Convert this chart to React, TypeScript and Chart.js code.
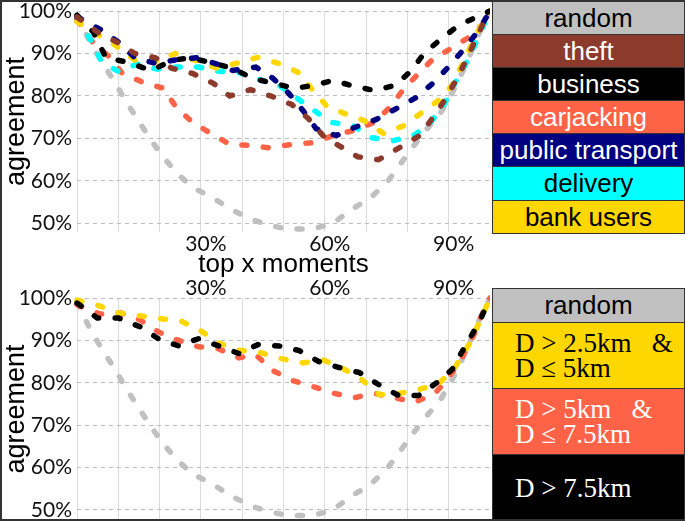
import React, { useEffect, useRef } from "react";
import { Chart, registerables } from "chart.js";

Chart.register(...registerables);

// ---------- data ----------
const xRandom = [0, 3, 6, 9, 12, 15, 18, 21, 24, 28, 33, 37, 42, 47, 51, 57, 62, 66, 71, 75, 78, 81, 84, 88, 91, 94, 97, 100];
const yRandom = [99, 93, 88, 83.5, 78.5, 74, 69.5, 65.5, 62, 58.5, 56, 53.5, 51, 49.5, 48.7, 48.7, 50, 53, 56, 59.6, 63.6, 67.6, 71.4, 76, 81, 87, 94, 100];

const xTheft = [0, 5, 10, 14, 19, 23, 28, 33, 37, 42, 47, 52, 56, 60, 64, 68, 73, 78, 83, 86, 89, 92.5, 95.6, 98.8, 100];
const yTheft = [98.6, 95, 92.5, 90, 89, 86.5, 85.3, 83, 80, 81.5, 80, 78, 74.7, 70.2, 68, 65.7, 65, 67.8, 70.7, 74.7, 79, 85, 91.3, 98, 100];

const xBusiness = [0, 4, 7, 12, 18, 23, 27.5, 33, 37.7, 42.6, 47.7, 52.6, 57.4, 62, 67, 72, 77, 81, 84, 88, 92.5, 100];
const yBusiness = [99, 95, 89, 88, 86, 88.4, 89, 87.7, 86.5, 84.1, 83, 81.8, 82.5, 83.7, 82.3, 81.3, 82.5, 86, 90, 93.3, 96.7, 100];

const xCarjacking = [0, 4, 8, 11, 16, 21, 24, 28, 32.4, 37, 41.6, 46.5, 51.8, 57, 62, 67, 72, 75.7, 79, 82.7, 86.4, 90.8, 95, 98.8, 100];
const yCarjacking = [97.9, 92.4, 89.1, 85.3, 83.2, 81.8, 77.3, 73.8, 71.2, 68.6, 68.4, 67.8, 68.6, 69, 70.7, 71.9, 73.8, 77.3, 81.5, 85.3, 88.9, 91.3, 93.9, 97.4, 100];

const xPublic = [0, 5.6, 10, 14, 19, 24, 29, 34, 37.7, 43.3, 47.4, 51.3, 54.7, 57.9, 62.8, 67.2, 72.5, 77.4, 82.2, 86.4, 90.3, 93.9, 97.3, 100];
const yPublic = [98.6, 95.7, 92.7, 89, 87.7, 88.5, 89, 87.5, 86, 86.8, 84.2, 80.6, 76.6, 72.3, 70.7, 72.6, 74.5, 77.1, 79.7, 83.2, 87.2, 91.3, 95.5, 100];

const xDelivery = [0, 3.6, 6, 10, 14.6, 19.5, 24.3, 29.4, 34.3, 39.2, 44, 48.9, 53, 57.4, 61.6, 66.9, 71.3, 76.6, 81.5, 85.4, 88.8, 91.5, 94.9, 97.6, 100];
const yDelivery = [98.5, 92.7, 88, 85.8, 87.5, 86.3, 86.8, 86.8, 85.8, 85.5, 83.9, 82.5, 79.7, 76.6, 73.8, 73, 70.2, 69.5, 70.7, 73.5, 77.8, 83, 88.9, 94.8, 100];

const xBank = [0, 5.6, 9.2, 14.1, 19, 23.8, 29.2, 34, 38.6, 43.8, 48.7, 53.5, 56.7, 60.3, 64.7, 69.6, 74.2, 79.1, 83.5, 87.6, 90.8, 94, 97.6, 100];
const yBank = [97.5, 94.1, 92, 88.4, 88, 90, 88.2, 86.5, 87.7, 89.1, 87.7, 85.6, 81.8, 77.8, 75.9, 74.2, 71.2, 73, 76.1, 79, 82.5, 89, 96.2, 100];

const xD1 = [0, 5.6, 10, 15.3, 20.2, 25.1, 29.9, 34.3, 39, 44.5, 49.4, 54.7, 59.6, 64.5, 68.9, 73.2, 78.1, 82.7, 87.6, 91.5, 94.9, 98, 100];
const yD1 = [99.5, 98.1, 96.5, 95.8, 95.1, 94.6, 92.3, 89.4, 87.7, 87.1, 85.7, 84.7, 85.4, 83.3, 80.8, 77.2, 77.5, 78.4, 79.8, 83.6, 89, 95.5, 100];

const xD2 = [0, 5.6, 10.5, 15.3, 19.7, 24.3, 29.4, 34.3, 39.2, 43.3, 47.4, 52.3, 57.2, 62.3, 67.2, 72, 76.9, 81.5, 86.4, 90, 93.2, 96.1, 98.8, 100];
const yD2 = [98.4, 96.2, 96.5, 94.8, 92, 90.1, 88.5, 88, 85.9, 86.6, 82.9, 80.5, 79.1, 77.5, 76.5, 77.5, 76.5, 75.4, 77.2, 81.2, 85.9, 91.3, 97.9, 100];

const xD3 = [0, 4.9, 10, 15.3, 19.7, 24.6, 29.4, 34.3, 39.2, 43.8, 48.9, 53.8, 58.6, 63.5, 68.4, 73, 77.9, 82.7, 87.1, 90.8, 93.9, 97.3, 100];
const yD3 = [98.8, 95.3, 95.3, 93.2, 90.4, 88.7, 90.4, 88.7, 86.9, 89, 88.7, 87.6, 85, 83.6, 82.4, 79.6, 77, 77, 80, 83.1, 88.5, 94.1, 100];

const xTicks = [0, 10, 20, 30, 40, 50, 60, 70, 80, 90, 100];
const xLabelled = [30, 60, 90];
const yTicks = [50, 60, 70, 80, 90, 100];

const topLegend = ["random", "theft", "business", "carjacking", "public transport", "delivery", "bank users"];
const bottomLegend = ["random", "D > 2.5km   &\nD ≤ 5km", "D > 5km   &\nD ≤ 7.5km", "D > 7.5km"];

// ---------- styles ----------
const C_RANDOM = "#c0c0c0";
const C_THEFT = "#8b3a2b";
const C_BLACK = "#000000";
const C_TOMATO = "#ff6347";
const C_NAVY = "#000080";
const C_CYAN = "#00ffff";
const C_GOLD = "#ffd700";

const pts = (xs: number[], ys: number[]) => xs.map((x, i) => ({ x, y: ys[i] }));

const ds = (label: string, xs: number[], ys: number[], color: string) => ({
  label,
  data: pts(xs, ys),
  borderColor: color,
  backgroundColor: color,
  borderWidth: 5.5,
  borderDash: [5, 16.5],
  borderCapStyle: "round",
  pointRadius: 0,
  tension: 0,
  fill: false,
  clip: false,
});

const xTickFont = { family: "Lato", size: 21 };
const yTickFont = { family: "Lato", size: 21, lineHeight: 0.1 };

function makeOptions(min: number, max: number, xPos: "top" | "bottom", xHeight: number, withTitle: boolean, padTop: number) {
  return {
    responsive: false,
    animation: false,
    devicePixelRatio: 1,
    layout: { padding: { top: padTop, right: 0, bottom: 0, left: 0 } },
    plugins: { legend: { display: false }, tooltip: { enabled: false } },
    scales: {
      x: {
        type: "linear",
        position: xPos,
        min: 0,
        max: 100,
        afterBuildTicks: (s: any) => {
          s.ticks = xTicks.map((v) => ({ value: v }));
        },
        afterFit: (s: any) => {
          s.height = xHeight;
        },
        ticks: {
          autoSkip: false,
          maxRotation: 0,
          padding: xPos === "top" ? -3 : 0,
          labelOffset: 5,
          font: xTickFont,
          color: "#111",
          callback: (v: any) => (xLabelled.includes(v) ? v + "%" : ""),
        },
        grid: { color: "#dcdcdc", drawTicks: false, lineWidth: 1 },
        border: { display: false },
        title: withTitle
          ? { display: true, text: "top x moments", font: { family: "Liberation Sans", size: 26 }, color: "#000", padding: 0 }
          : { display: false },
      },
      y: {
        type: "linear",
        min,
        max,
        afterBuildTicks: (s: any) => {
          s.ticks = yTicks.map((v) => ({ value: v }));
        },
        afterFit: (s: any) => {
          s.width = 77;
        },
        ticks: {
          padding: 0,
          font: yTickFont,
          color: "#111",
          callback: (v: any) => v + "%",
        },
        grid: { color: "#bdbdbd", drawTicks: true, tickLength: 5, tickColor: "rgba(0,0,0,0)", lineWidth: 1 },
        border: { display: false, dash: [4, 4] },
        title: { display: true, text: "agreement", font: { family: "Liberation Sans", size: 27 }, color: "#000", padding: 0 },
      },
    },
  } as any;
}

function Panel(props: { top: number; height: number; datasets: any[]; min: number; max: number; xPos: "top" | "bottom"; xHeight: number; withTitle: boolean; padTop: number }) {
  const ref = useRef<HTMLCanvasElement | null>(null);
  useEffect(() => {
    if (!ref.current) return;
    const chart = new Chart(ref.current, {
      type: "line",
      data: { datasets: props.datasets },
      options: makeOptions(props.min, props.max, props.xPos, props.xHeight, props.withTitle, props.padTop),
    } as any);
    return () => chart.destroy();
  }, []);
  return (
    <canvas
      ref={ref}
      width={490}
      height={props.height}
      style={{ position: "absolute", left: 0, top: props.top, width: 490, height: props.height }}
    />
  );
}

const topColors = [C_RANDOM, C_THEFT, C_BLACK, C_TOMATO, C_NAVY, C_CYAN, C_GOLD];
const topText = ["#000", "#fff", "#fff", "#fff", "#fff", "#000", "#000"];
const botColors = [C_RANDOM, C_GOLD, C_TOMATO, C_BLACK];
const botText = ["#000", "#000", "#fff", "#fff"];

export default function App() {
  // first dataset is drawn on top
  const topDatasets = [
    ds("theft", xTheft, yTheft, C_THEFT),
    ds("public transport", xPublic, yPublic, C_NAVY),
    ds("business", xBusiness, yBusiness, C_BLACK),
    ds("bank users", xBank, yBank, C_GOLD),
    ds("delivery", xDelivery, yDelivery, C_CYAN),
    ds("carjacking", xCarjacking, yCarjacking, C_TOMATO),
    ds("random", xRandom, yRandom, C_RANDOM),
  ];
  const bottomDatasets = [
    ds("D > 7.5km", xD3, yD3, C_BLACK),
    ds("D > 2.5km & D ≤ 5km", xD1, yD1, C_GOLD),
    ds("D > 5km & D ≤ 7.5km", xD2, yD2, C_TOMATO),
    ds("random", xRandom, yRandom, C_RANDOM),
  ];

  const topRows = [1, 34, 67, 100, 133, 166, 200, 233];
  const botRows = [288, 322, 388, 454, 521];

  return (
    <div style={{ position: "absolute", left: 0, top: 0, width: 685, height: 521, background: "#fff", overflow: "hidden" }}>
      <Panel top={0} height={280} datasets={topDatasets} min={48} max={100} xPos="bottom" xHeight={48} withTitle={true} padTop={11} />
      <Panel top={268} height={253} datasets={bottomDatasets} min={47.65} max={100} xPos="top" xHeight={30} withTitle={false} padTop={0} />
      {topLegend.map((t, i) => (
        <div
          key={"t" + i}
          style={{
            position: "absolute",
            left: 492,
            top: topRows[i],
            width: 193,
            height: topRows[i + 1] - topRows[i] + 1,
            background: topColors[i],
            color: topText[i],
            border: "1px solid #333",
            boxSizing: "border-box",
            display: "flex",
            alignItems: "center",
            justifyContent: "center",
            fontFamily: "Liberation Sans",
            fontSize: 26,
            whiteSpace: "nowrap",
          }}
        >
          {t}
        </div>
      ))}
      {bottomLegend.map((t, i) => (
        <div
          key={"b" + i}
          style={{
            position: "absolute",
            left: 492,
            top: botRows[i],
            width: 193,
            height: botRows[i + 1] - botRows[i] + 1,
            background: botColors[i],
            color: botText[i],
            border: "1px solid #333",
            boxSizing: "border-box",
            display: "flex",
            alignItems: "center",
            justifyContent: i === 0 ? "center" : "flex-start",
            paddingLeft: i === 0 ? 0 : 22,
            fontFamily: i === 0 ? "Liberation Sans" : "Liberation Serif",
            fontSize: i === 0 ? 26 : 27,
            lineHeight: i === 0 ? "normal" : "25px",
            whiteSpace: "pre",
          }}
        >
          {t}
        </div>
      ))}
      <div style={{ position: "absolute", left: 0, top: 0, width: 685, height: 2, background: "#333" }} />
      <div style={{ position: "absolute", left: 0, top: 0, width: 2, height: 521, background: "#333" }} />
      <div style={{ position: "absolute", left: 0, top: 519, width: 685, height: 2, background: "#333" }} />
    </div>
  );
}
